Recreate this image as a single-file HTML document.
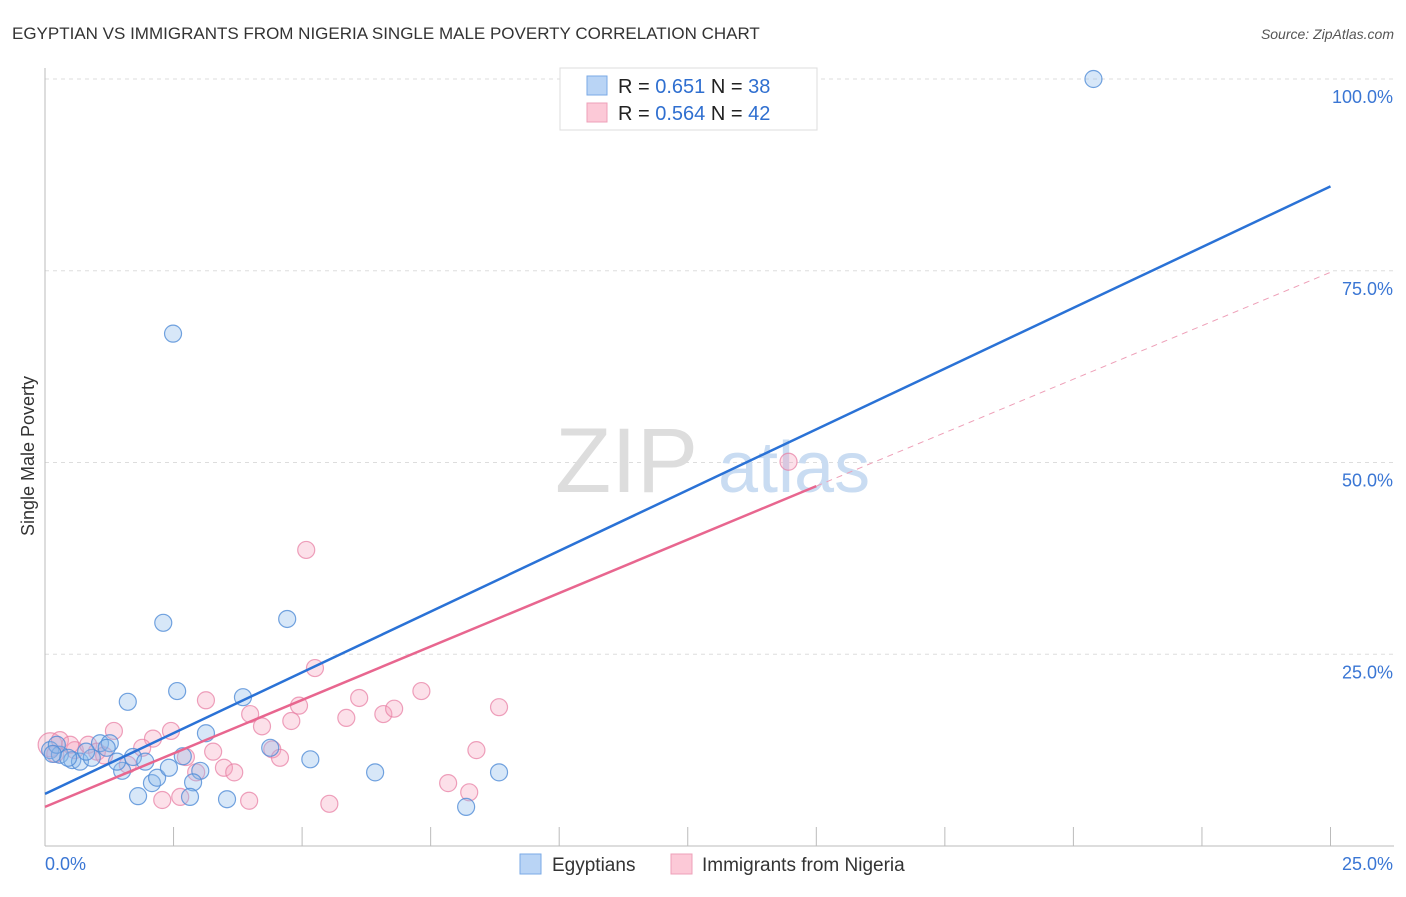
<!DOCTYPE html>
<html><head><meta charset="utf-8"><style>
body{margin:0;background:#fff;font-family:"Liberation Sans",sans-serif}
svg text{font-family:"Liberation Sans",sans-serif}
</style></head><body>
<svg width="1406" height="892" viewBox="0 0 1406 892">
<text x="12" y="39" font-size="17" fill="#333">EGYPTIAN VS IMMIGRANTS FROM NIGERIA SINGLE MALE POVERTY CORRELATION CHART</text>
<text x="1394" y="39" font-size="14" fill="#555" font-style="italic" text-anchor="end">Source: ZipAtlas.com</text>
<g id="grid"></g>
<text x="555" y="492" font-size="92" fill="#ddd" font-family="Liberation Serif">ZIP</text>
<text x="718" y="492" font-size="72" fill="#c9dcf2">atlas</text>
<g id="axes"></g>
<g id="pts"></g>
<g id="lines"></g>
<text transform="translate(34,456) rotate(-90)" font-size="18" fill="#333" text-anchor="middle">Single Male Poverty</text>
<g>
<rect x="560" y="68" width="257" height="62" fill="#fff" stroke="#ddd"/>
<rect x="587" y="76" width="20" height="19" fill="#b9d4f5" stroke="#7aaae6"/>
<rect x="587" y="103" width="20" height="19" fill="#fcc9d7" stroke="#eea0b8"/>
<text x="618" y="93" font-size="20" fill="#222">R = <tspan fill="#2f6fd0"> 0.651</tspan>   N = <tspan fill="#2f6fd0">38</tspan></text>
<text x="618" y="120" font-size="20" fill="#222">R = <tspan fill="#2f6fd0">0.564</tspan>   N = <tspan fill="#2f6fd0">42</tspan></text>
</g>
<g>
<rect x="520" y="854" width="21" height="20" fill="#b9d4f5" stroke="#7aaae6"/>
<text x="552" y="871" font-size="19" fill="#333">Egyptians</text>
<rect x="671" y="854" width="21" height="20" fill="#fcc9d7" stroke="#eea0b8"/>
<text x="702" y="871" font-size="19" fill="#333">Immigrants from Nigeria</text>
</g>
</svg>
<script>
const yTicks=[25,50,75,100];
const yTickLabels=["25.0%","50.0%","75.0%","100.0%"];
const xTickCount=[0,2.5,5,7.5,10,12.5,15,17.5,20,22.5,25];
const blueX=[20.39,2.49,2.30,4.71,1.61,2.57,3.85,3.13,4.38,5.16,6.42,8.83,8.19,0.1,0.29,0.53,0.68,0.91,1.07,1.26,1.50,1.71,1.95,1.81,2.08,2.18,2.41,2.68,3.02,2.88,2.82,3.54,1.40,0.23,0.8,0.45,0.15,1.2];
const blueY=[100,66.8,29.1,29.6,18.8,20.2,19.4,14.7,12.8,11.3,9.6,9.6,5.1,12.5,11.9,11.2,11.0,11.5,13.4,13.4,9.8,11.6,11.0,6.5,8.2,8.9,10.2,11.7,9.8,8.3,6.4,6.1,11.0,13.2,12.3,11.5,12.0,12.8];
const pinkX=[11.36,14.46,5.08,5.25,3.13,6.11,7.32,8.83,4.94,3.99,6.58,6.79,5.86,4.79,4.22,2.45,1.34,2.10,1.89,3.27,4.42,4.57,8.39,2.74,3.48,3.68,2.94,7.84,8.25,5.53,3.97,2.28,2.63,0.1,0.29,0.58,0.84,1.01,1.61,0.49,0.2,1.15];
const pinkY=[100,50.1,38.6,23.2,19.0,19.3,20.2,18.1,18.3,17.2,17.2,17.9,16.7,16.3,15.6,15.0,15.0,14.0,12.8,12.3,12.6,11.5,12.5,11.6,10.2,9.6,9.6,8.2,7.0,5.5,5.9,6.0,6.4,13.2,13.8,12.5,13.2,12.3,10.6,13.2,12.0,11.8];
const blueLine=[6.8,86.0];
const pinkLine=[5.1,74.8];
const pinkSolidEnd=15;
const X=v=>45+v*51.42, Y=v=>846-v*7.67;
const ns="http://www.w3.org/2000/svg";
function mk(t,a,p){const e=document.createElementNS(ns,t);for(const k in a)e.setAttribute(k,a[k]);document.getElementById(p).appendChild(e);return e;}
yTicks.forEach((t,i)=>{
 const l=mk('line',{x1:45,x2:1394,y1:Y(t),y2:Y(t),stroke:'#ddd','stroke-dasharray':'4,4'},'grid');
 
 
 const tx=mk('text',{x:1393,y:Y(t)+24,'font-size':18,fill:'#3a76d4','text-anchor':'end'},'grid');
 tx.textContent=yTickLabels[i];
 
 
});
mk('line',{x1:45,x2:45,y1:68,y2:846,stroke:'#bbb'},'axes');
mk('line',{x1:45,x2:1394,y1:846,y2:846,stroke:'#bbb'},'axes');
xTickCount.forEach(t=>{const l=mk('line',{x1:X(t),x2:X(t),y1:827,y2:846,stroke:'#bbb'},'axes');
 
 });
let a=mk('text',{x:45,y:870,'font-size':18,fill:'#3a76d4'},'axes');a.textContent='0.0%';

a=mk('text',{x:1393,y:870,'font-size':18,fill:'#3a76d4','text-anchor':'end'},'axes');a.textContent='25.0%';

pinkX.forEach((x,i)=>{const c=mk('circle',{cx:X(x),cy:Y(pinkY[i]),r:i==33?12:8.5,fill:'rgba(245,160,188,0.33)',stroke:'rgba(232,130,165,0.75)','stroke-width':1.2},'pts');
 
 });
blueX.forEach((x,i)=>{const c=mk('circle',{cx:X(x),cy:Y(blueY[i]),r:8.5,fill:'rgba(140,185,235,0.35)',stroke:'rgba(80,140,215,0.8)','stroke-width':1.2},'pts');
 
 });
const pm=v=>pinkLine[0]+(pinkLine[1]-pinkLine[0])*v/25;
let l=mk('line',{x1:X(0),y1:Y(blueLine[0]),x2:X(25),y2:Y(blueLine[1]),stroke:'#2a72d6','stroke-width':2.5},'lines');

l=mk('line',{x1:X(0),y1:Y(pm(0)),x2:X(pinkSolidEnd),y2:Y(pm(pinkSolidEnd)),stroke:'#e8668f','stroke-width':2.5},'lines');

l=mk('line',{x1:X(pinkSolidEnd),y1:Y(pm(pinkSolidEnd)),x2:X(25),y2:Y(pm(25)),stroke:'#eea0b8','stroke-width':1,'stroke-dasharray':'6,5'},'lines');

</script>
</body></html>
